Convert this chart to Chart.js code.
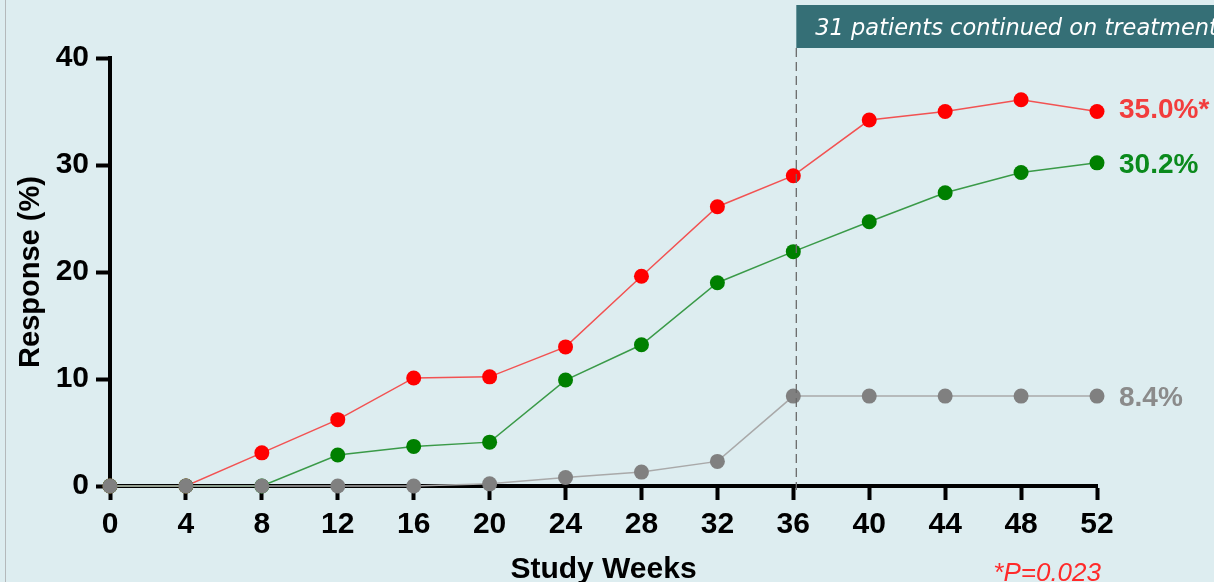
<!DOCTYPE html>
<html>
<head>
<meta charset="utf-8">
<script src="https://cdn.jsdelivr.net/npm/chart.js@4/dist/chart.umd.min.js"></script>
<style>
  html, body { margin: 0; padding: 0; overflow: hidden; background: #ddedf0; }
  #wrap { position: relative; width: 1214px; height: 582px; }
  #edge { position: absolute; left: 5px; top: 0; width: 1px; height: 582px; background: #b4b9bb; }
  canvas { display: block; }
</style>
</head>
<body>
<div id="wrap">
  <canvas id="chart" width="1214" height="582"></canvas>
  <div id="edge"></div>
</div>
<script>
// Study visit weeks and axis ticks
const weeks  = [0, 4, 8, 12, 16, 20, 24, 28, 32, 36, 40, 44, 48, 52];
const xTicks = [0, 4, 8, 12, 16, 20, 24, 28, 32, 36, 40, 44, 48, 52];
const yTicks = [0, 10, 20, 30, 40];

// Response rate (%) per arm
const armHigh = [0, 0, 3.1, 6.2, 10.1, 10.2, 13.0, 19.6, 26.1, 29.0, 34.2, 35.0, 36.1, 35.0];
const armLow  = [0, 0, 0, 2.9, 3.7, 4.1, 9.9, 13.2, 19.0, 21.9, 24.7, 27.4, 29.3, 30.2];
const control = [0, 0, 0, 0, 0, 0.2, 0.8, 1.3, 2.3, 8.4, 8.4, 8.4, 8.4, 8.4];

// End-of-study label suffixes (asterisk marks the significant arm)
const endSuffix = { high: '*', low: '', control: '' };

const continuationWeek = 36;
const bannerText = '31 patients continued on treatment';
const pValueText = '*P=0.023';

const FONT = '"Liberation Sans", Arial, Helvetica, sans-serif';

function points(values) {
  return weeks.map((w, i) => ({ x: w, y: values[i] }));
}

const annotations = {
  id: 'annotations',
  afterDatasetsDraw(chart) {
    const { ctx, scales: { x, y } } = chart;
    const xs = x.getPixelForValue(continuationWeek) + 3;
    ctx.save();

    // dashed marker where the continuation phase begins
    ctx.strokeStyle = '#6a6a6a';
    ctx.lineWidth = 1.3;
    ctx.setLineDash([9, 5]);
    ctx.beginPath();
    ctx.moveTo(xs, 48);
    ctx.lineTo(xs, y.getPixelForValue(0) + 4);
    ctx.stroke();
    ctx.setLineDash([]);

    // banner above the continuation phase
    ctx.fillStyle = '#356f76';
    ctx.fillRect(xs, 5, chart.width - xs, 43);
    ctx.fillStyle = '#ffffff';
    ctx.font = 'oblique 22.5px "DejaVu Sans", sans-serif';
    ctx.textAlign = 'left';
    ctx.textBaseline = 'alphabetic';
    ctx.fillText(bannerText, xs + 19, 35);

    // end-of-study values next to the final points
    ctx.font = 'bold 28px ' + FONT;
    chart.data.datasets.forEach((ds, i) => {
      const meta = chart.getDatasetMeta(i);
      const last = meta.data[meta.data.length - 1];
      const v = ds.data[ds.data.length - 1].y;
      ctx.fillStyle = ds.labelColor;
      ctx.fillText(v.toFixed(1) + '%' + ds.suffix, last.x + 22, last.y + 10 + ds.labelShift);
    });

    // significance note
    ctx.font = 'italic 26px ' + FONT;
    ctx.fillStyle = '#ff2a2a';
    ctx.textAlign = 'right';
    ctx.fillText(pValueText, x.getPixelForValue(52) + 4, 581);
    ctx.restore();
  }
};

const tickFont = { family: FONT, size: 30, weight: 'bold' };

new Chart(document.getElementById('chart'), {
  type: 'line',
  data: {
    datasets: [
      {
        data: points(control), suffix: endSuffix.control, labelColor: '#8b8b8b', labelShift: 0,
        borderColor: '#a9a9a9', borderWidth: 1.5,
        pointBackgroundColor: '#808080', pointBorderWidth: 0, pointRadius: 7.5,
        clip: false
      },
      {
        data: points(armLow), suffix: endSuffix.low, labelColor: '#0a8a1c', labelShift: 0,
        borderColor: '#3a9a48', borderWidth: 1.5,
        pointBackgroundColor: '#008000', pointBorderWidth: 0, pointRadius: 7.5,
        clip: false
      },
      {
        data: points(armHigh), suffix: endSuffix.high, labelColor: '#f23d3d', labelShift: -4,
        borderColor: '#f25252', borderWidth: 1.5,
        pointBackgroundColor: '#ff0000', pointBorderWidth: 0, pointRadius: 7.5,
        clip: false
      }
    ]
  },
  options: {
    responsive: false,
    animation: false,
    events: [],
    layout: { padding: { top: 58, right: 117, bottom: 0, left: 0 } },
    plugins: { legend: { display: false }, tooltip: { enabled: false } },
    scales: {
      x: {
        type: 'linear', min: 0, max: 52,
        afterBuildTicks: s => { s.ticks = xTicks.map(v => ({ value: v })); },
        afterFit: s => { s.height = 96; },
        grid: { drawOnChartArea: false, drawTicks: true, tickLength: 14, tickWidth: 4, tickColor: '#000' },
        border: { display: true, width: 4, color: '#000' },
        ticks: { color: '#000', font: tickFont, padding: 7, maxRotation: 0, autoSkip: false },
        title: {
          display: true, text: 'Study Weeks', color: '#000',
          font: { family: FONT, size: 30, weight: 'bold', lineHeight: 1 },
          padding: { top: 0, bottom: -3 }
        }
      },
      y: {
        type: 'linear', min: 0, max: 40,
        afterBuildTicks: s => { s.ticks = yTicks.map(v => ({ value: v })); },
        afterFit: s => { s.width = 110; },
        grid: { drawOnChartArea: false, drawTicks: true, tickLength: 14, tickWidth: 4, tickColor: '#000' },
        border: { display: true, width: 4, color: '#000' },
        ticks: { color: '#000', font: tickFont, padding: 7 },
        title: {
          display: true, text: 'Response (%)', color: '#000',
          font: { family: FONT, size: 29, weight: 'bold', lineHeight: 1 },
          padding: { top: 16, bottom: 0 }
        }
      }
    }
  },
  plugins: [annotations]
});
</script>
</body>
</html>
